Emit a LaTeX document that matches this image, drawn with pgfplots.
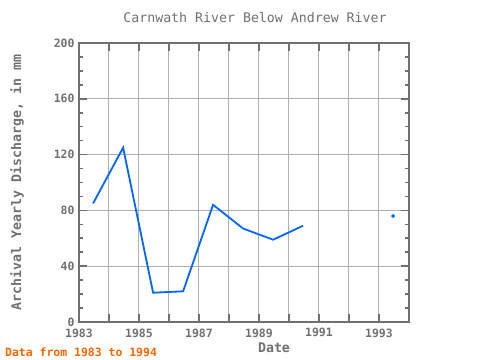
\documentclass[border=0pt]{standalone}
\usepackage{pgfplots}
\pgfplotsset{compat=1.18}
\usepackage{fontspec}
\setmainfont{DejaVu Sans Mono}
\definecolor{txtgray}{HTML}{707070}
\definecolor{framegray}{HTML}{707070}
\definecolor{gridgray}{HTML}{B0B0B0}
\definecolor{lineblue}{HTML}{0066FF}
\definecolor{orangetxt}{HTML}{FF6600}
\begin{document}
\begin{tikzpicture}
\useasboundingbox (0,0) rectangle (480bp,360bp);
\begin{axis}[
  at={(79bp,38bp)}, anchor=south west,
  scale only axis, width=330bp, height=279bp,
  xmin=1983, xmax=1994, ymin=0, ymax=200,
  xtick={1983,...,1994},
  xticklabels={1983,,1985,,1987,,1989,,1991,,1993,},
  minor x tick num=2,
  ytick={0,40,...,200},
  minor y tick num=3,
  grid=major,
  major grid style={gridgray, line width=1bp},
  tick align=inside,
  major tick length=8bp,
  minor tick length=4bp,
  every tick/.style={framegray, line width=1.6bp},
  axis line style={framegray, line width=2bp},
  tick label style={txtgray, font=\bfseries\fontsize{11.5}{12}\selectfont},
  /pgf/number format/assume math mode=true,
  xticklabel style={yshift=-3bp},
  yticklabel style={xshift=-1bp},
  clip=false,
]
\addplot[lineblue, line width=1.8bp, no marks] coordinates {
(1983.47,85) (1984.47,125) (1985.47,21) (1986.47,22) (1987.47,84) (1988.47,67) (1989.47,59) (1990.47,69)
};
\addplot[lineblue, only marks, mark=*, mark size=1.8bp] coordinates {(1993.47,76)};
\end{axis}
\node[txtgray, font=\fontsize{13.3}{14}\selectfont] at (255bp,342bp) {Carnwath River Below Andrew River};
\node[txtgray, font=\bfseries\fontsize{13.3}{14}\selectfont, rotate=90] at (17bp,177.5bp) {Archival Yearly Discharge, in mm};
\node[txtgray, font=\bfseries\fontsize{13.3}{14}\selectfont] at (274bp,12.3bp) {Date};
\node[orangetxt, font=\bfseries\fontsize{11.5}{12}\selectfont, anchor=west, inner sep=0pt] at (5bp,7.7bp) {Data from 1983 to 1994};
\end{tikzpicture}
\end{document}
